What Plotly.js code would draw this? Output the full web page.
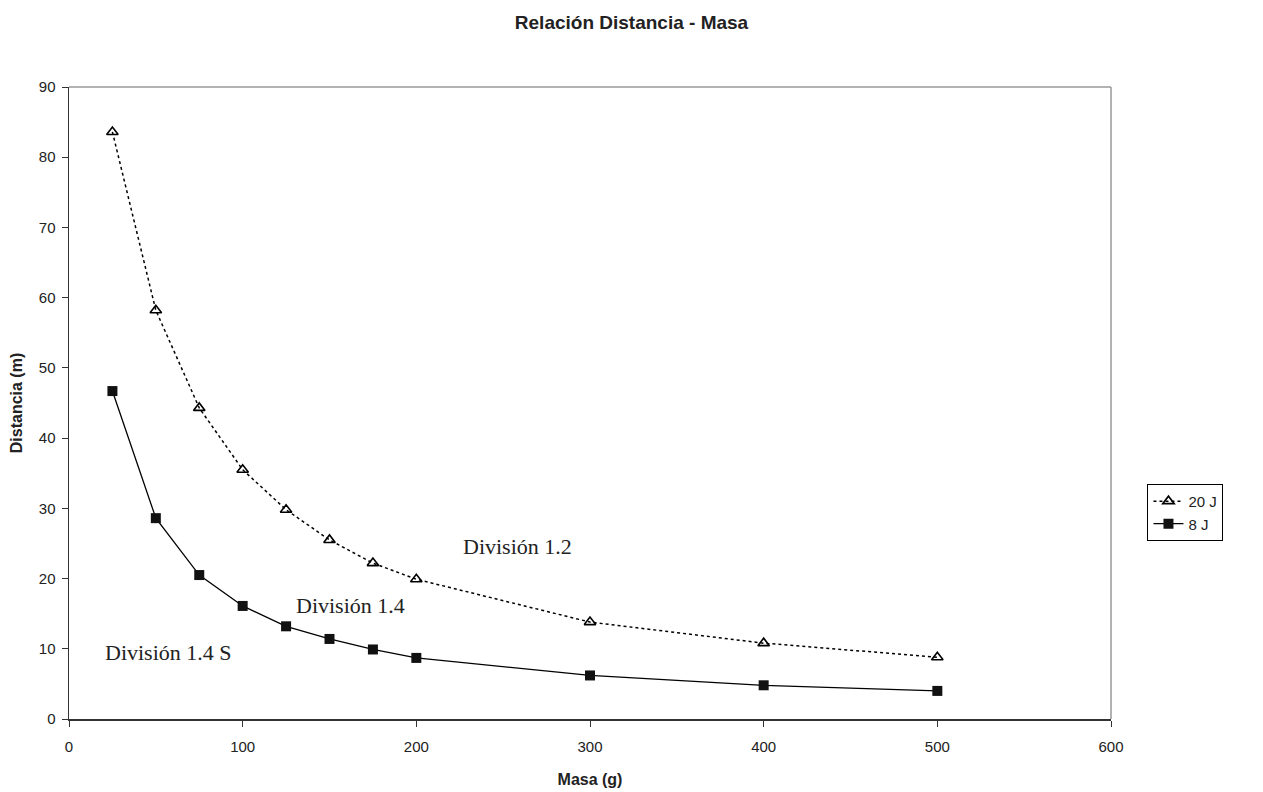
<!DOCTYPE html>
<html>
<head>
<meta charset="utf-8">
<script src="https://cdn.plot.ly/plotly-3.0.1.min.js"></script>
<style>html,body{margin:0;padding:0;background:#fff;}#chart{width:1263px;height:792px;}</style>
</head>
<body>
<div id="chart"></div>
<script>
var masa = [25, 50, 75, 100, 125, 150, 175, 200, 300, 400, 500];
var dist20J = [83.6, 58.2, 44.3, 35.5, 29.8, 25.5, 22.2, 19.9, 13.8, 10.8, 8.8];
var dist8J = [46.7, 28.6, 20.5, 16.1, 13.2, 11.4, 9.9, 8.7, 6.2, 4.8, 4.0];
var seriesNames = ["20 J", "8 J"];
var labels = ["División 1.2", "División 1.4", "División 1.4 S"];
var labelX = [258, 162, 57.5];
var labelY = [24.5, 16.1, 9.4];

var traces = [
  {x: masa, y: dist20J, name: seriesNames[0], mode: "lines+markers", type: "scatter",
   line: {color: "#000", width: 1.5, dash: "dot"},
   marker: {symbol: "triangle-up-open", size: 10, color: "#000", line: {width: 1.6, color: "#000"}}},
  {x: masa, y: dist8J, name: seriesNames[1], mode: "lines+markers", type: "scatter",
   line: {color: "#000", width: 1.3},
   marker: {symbol: "square", size: 10, color: "#111", line: {width: 0}}}
];

var annotations = labels.map(function(t, i){
  return {x: labelX[i], y: labelY[i], xref: "x", yref: "y", text: t, showarrow: false,
          font: {family: "Liberation Serif, Times New Roman, serif", size: 22, color: "#222"}};
});

var layout = {
  width: 1263, height: 792,
  margin: {l: 69, r: 152, t: 87, b: 73},
  paper_bgcolor: "#fff", plot_bgcolor: "#fff",
  font: {family: "Liberation Sans, Arial, sans-serif", size: 15, color: "#222"},
  title: {text: "<b>Relación Distancia - Masa</b>", x: 0.5, xanchor: "center", y: 0.972, yanchor: "middle",
          font: {size: 19, color: "#222"}},
  xaxis: {range: [0, 600], tickvals: [0,100,200,300,400,500,600], showgrid: false, zeroline: false,
          showline: true, linecolor: "#333", linewidth: 1.5, ticks: "outside", ticklen: 6, tickcolor: "#333",
          ticklabelstandoff: 7,
          title: {text: "<b>Masa (g)</b>", font: {size: 16}, standoff: 20}},
  yaxis: {range: [0, 90], tickvals: [0,10,20,30,40,50,60,70,80,90], showgrid: false, zeroline: false,
          showline: true, linecolor: "#333", linewidth: 1.5, ticks: "outside", ticklen: 6, tickcolor: "#333",
          ticklabelstandoff: 3,
          title: {text: "<b>Distancia (m)</b>", font: {size: 16}, standoff: 12}},
  shapes: [
    {type: "line", xref: "paper", yref: "paper", x0: 0, x1: 1, y0: 1, y1: 1, line: {color: "#999", width: 1.5}},
    {type: "line", xref: "paper", yref: "paper", x0: 1, x1: 1, y0: 0, y1: 1, line: {color: "#999", width: 1.5}}
  ],
  legend: {x: 1.035, y: 0.372, xanchor: "left", yanchor: "top", bordercolor: "#000", borderwidth: 1,
           font: {size: 15}, tracegroupgap: 0, itemwidth: 30},
  annotations: annotations,
  showlegend: true
};

Plotly.newPlot("chart", traces, layout, {displayModeBar: false, staticPlot: true});
</script>
</body>
</html>
